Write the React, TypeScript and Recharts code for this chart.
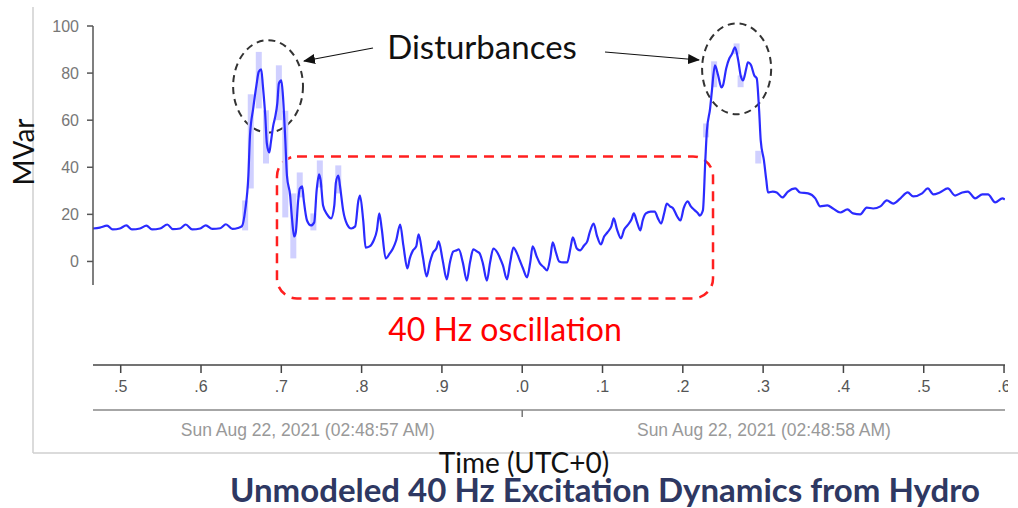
import React from "react";
import { ComposedChart, Line, Bar, XAxis, YAxis, ReferenceArea } from "recharts";

// time in ms after 02:48:57, MVar
const timeMs = [
  465.5, 474, 483, 490, 499, 507, 514, 524, 532, 539, 549, 558, 565, 574, 581, 589, 599, 606, 614, 624, 631, 639, 646,
  651, 655, 659, 661, 665, 669, 672, 675, 677, 680, 682, 685, 687, 690, 692, 695, 697, 700, 702, 705, 707, 711, 713, 716, 718, 721, 723, 726, 728,
  732, 737, 741, 744, 747, 749, 752, 757, 762, 766, 768, 771, 773, 777, 782, 787, 792, 796, 798, 802, 805, 810, 815, 819, 822, 825, 830, 835, 839, 843, 848,
  852, 857, 860, 864, 868, 871, 876, 881, 885, 889, 893, 896, 901, 906, 910, 914, 918, 921, 926, 931, 935, 939, 944, 947, 951, 956, 960, 964, 969, 972,
  976, 981, 985, 989, 994, 997, 1001, 1006, 1010, 1013, 1018, 1022, 1027, 1031, 1035, 1038, 1042, 1046, 1051, 1056, 1060, 1063, 1068, 1072, 1077, 1081, 1084, 1089, 1093,
  1098, 1102, 1106, 1111, 1114, 1118, 1123, 1127, 1131, 1136, 1139, 1143, 1147, 1150, 1154, 1160, 1165, 1169, 1173, 1177, 1180, 1184, 1188, 1193, 1197, 1201, 1206, 1210, 1215, 1219, 1221, 1225,
  1228, 1230, 1234, 1236, 1240, 1244, 1248, 1250, 1254, 1258, 1261, 1265, 1269, 1272, 1275, 1279, 1281, 1285, 1289, 1292, 1295, 1297, 1301, 1304, 1306,
  1312, 1317, 1324, 1331, 1340, 1346, 1356, 1365, 1371, 1380, 1387, 1396, 1405, 1412, 1421, 1429, 1437, 1446, 1454, 1462, 1471, 1480, 1487, 1498, 1505, 1512, 1520, 1530, 1539, 1548, 1555, 1564, 1573, 1580, 1589, 1598, 1601,
];
const mvar = [
  14.0, 14.4, 15.2, 13.6, 14.0, 15.3, 13.6, 14.0, 15.2, 13.6, 14.0, 15.7, 13.7, 14.0, 15.7, 13.6, 14.0, 15.3, 13.8, 14.1, 15.8, 13.8, 14.2,
  15.0, 21.7, 36.5, 53.5, 65.0, 74.8, 80.7, 81.6, 74.8, 62.0, 50.1, 46.3, 50.6, 57.8, 60.8, 67.1, 75.6, 76.9, 70.5, 51.4, 36.5, 28.0, 19.5, 10.6, 12.3, 25.9, 31.0, 31.9, 25.9,
  17.4, 15.3, 16.6, 30.2, 37.0, 34.4, 23.8, 20.0, 18.3, 23.8, 33.6, 36.5, 32.3, 21.7, 15.7, 14.0, 14.9, 25.9, 28.0, 17.4, 5.9, 6.4, 8.9, 13.2, 20.4, 14.0, 1.3, 3.4, 5.5, 8.9, 15.7,
  6.8, -3.0, 1.3, 4.7, 6.4, 11.5, 2.5, -6.4, -0.4, 3.8, 5.5, 8.5, 0.4, -7.6, -0.4, 4.2, 4.7, 5.1, -0.4, -8.1, -0.4, 5.1, 4.2, 3.4, -0.8, -8.1, -0.4, 5.5, 3.8, 1.7,
  -1.7, -7.6, -0.4, 5.9, 3.0, 0.4, -3.0, -6.8, -0.4, 6.4, 2.1, -0.8, -2.5, -3.8, 1.7, 8.1, 3.8, 0.0, -0.4, -0.4, 5.5, 10.2, 5.5, 4.7, 6.8, 8.5, 12.3, 16.1, 11.0,
  7.2, 10.6, 12.3, 14.9, 18.3, 13.6, 9.8, 13.6, 15.3, 17.8, 20.4, 16.6, 13.2, 17.4, 20.4, 21.2, 21.2, 18.3, 16.1, 20.8, 24.6, 23.4, 22.5, 19.1, 17.4, 22.5, 25.5, 23.4, 21.7, 20.4, 19.5, 21.7,
  42.9, 55.7, 65.0, 71.8, 83.3, 79.0, 73.9, 74.8, 82.0, 86.3, 88.0, 90.9, 85.4, 79.0, 76.9, 82.0, 84.6, 83.3, 79.0, 77.8, 64.2, 51.4, 42.9, 34.4, 29.3,
  29.7, 29.3, 27.2, 29.7, 31.0, 29.3, 28.9, 26.8, 23.4, 23.8, 22.5, 20.8, 22.1, 20.4, 20.0, 22.9, 22.5, 23.4, 25.9, 24.6, 26.8, 29.3, 27.6, 28.9, 31.0, 28.5, 29.3, 31.0, 28.0, 29.3, 29.7, 26.8, 28.5, 28.5, 25.1, 26.8, 26.3,
];

// min/max envelope bars shown behind the trace
const envTime = [655, 662, 672, 681, 697, 705, 715, 723, 740, 748, 771, 1229, 1239, 1267, 1272, 1294];
const envLow = [13.2, 31, 65, 41.6, 60, 18.7, 1.3, 27.2, 13.2, 31.4, 28.9, 52.7, 74, 88, 74, 41.6];
const envHigh = [25.9, 71, 89, 64.2, 83.3, 64, 28.9, 37.8, 20.4, 42.9, 40.8, 58.6, 85, 92.6, 79, 47];

const yTicks = [0, 20, 40, 60, 80, 100];
const secTicks = [500, 600, 700, 800, 900, 1000, 1100, 1200, 1300, 1400, 1500, 1600];
const dateTicks = [733, 1000, 1301];
const dateLabels: Record<number, string> = {
  733: "Sun Aug 22, 2021 (02:48:57 AM)",
  1301: "Sun Aug 22, 2021 (02:48:58 AM)",
};

const X_DOMAIN: [number, number] = [465.5, 1601.2];

const rows = [
  ...timeMs.map((t, i) => ({ t, v: mvar[i] })),
  ...envTime.map((t, i) => ({ t, range: [envLow[i], envHigh[i]] })),
].sort((a, b) => a.t - b.t);

const DashedEllipse = (p: any) => (
  <ellipse
    cx={p.x + p.width / 2}
    cy={p.y + p.height / 2}
    rx={Math.abs(p.width) / 2}
    ry={Math.abs(p.height) / 2}
    fill="none"
    stroke="#333"
    strokeWidth={2}
    strokeDasharray="7 5"
  />
);

const RedBox = (p: any) => (
  <rect x={p.x} y={p.y} width={p.width} height={p.height} rx={20} fill="none" stroke="#ff1f1f" strokeWidth={2.5} strokeDasharray="10 7" />
);

// envelope bars: keep a fixed 6px width centred on the sample
const EnvBar = (p: any) =>
  p.height ? <rect x={p.x + p.width / 2 - 3} y={p.y} width={6} height={p.height} fill="#d0d0ff" /> : <g />;

const DateTick = ({ x, y, payload }: any) => {
  if (payload.value === 1000) return <line x1={x} y1={y} x2={x} y2={y + 7} stroke="#777" strokeWidth={1.5} />;
  return (
    <text x={x} y={y + 26} textAnchor="middle" fill="#999" fontSize={17.5}>
      {dateLabels[payload.value]}
    </text>
  );
};

const secLabel = (t: number) => "." + (Math.round(t / 100) % 10);

const slideFont = "Lato, 'Open Sans', sans-serif";

export default function App() {
  return (
    <div style={{ position: "absolute", left: 0, top: 0, width: 1018, height: 508, background: "#fff", overflow: "hidden", fontFamily: "'Liberation Sans', Arial, sans-serif" }}>
      <div style={{ position: "absolute", left: 0, top: 0 }}>
        <ComposedChart width={1008} height={460} data={rows} margin={{ top: 300, right: 3, bottom: 10, left: 93 }}>
          <XAxis
            xAxisId="a1"
            dataKey="t"
            type="number"
            domain={X_DOMAIN}
            allowDataOverflow
            ticks={secTicks}
            interval={0}
            tickFormatter={secLabel}
            height={45}
            axisLine={{ stroke: "#444", strokeWidth: 1.5 }}
            tickLine={{ stroke: "#444", strokeWidth: 1.5 }}
            tickSize={8}
            tickMargin={8}
            tick={{ fill: "#555", fontSize: 16 }}
          />
          <XAxis
            xAxisId="a2"
            dataKey="t"
            type="number"
            domain={X_DOMAIN}
            allowDataOverflow
            ticks={dateTicks}
            interval={0}
            height={40}
            axisLine={{ stroke: "#888", strokeWidth: 1.5 }}
            tickLine={false}
            tickSize={0}
            tickMargin={0}
            tick={<DateTick />}
          />
          <YAxis hide domain={[0, 1]} allowDataOverflow />
          <Line xAxisId="a1" dataKey="v" stroke="none" dot={false} isAnimationActive={false} />
          <Line xAxisId="a2" dataKey="v" stroke="none" dot={false} isAnimationActive={false} />
        </ComposedChart>
      </div>

      <div style={{ position: "absolute", left: 0, top: 0 }}>
        <ComposedChart width={1018} height={310} data={rows} margin={{ top: 26, right: 13, bottom: 25, left: 42 }}>
          <XAxis dataKey="t" type="number" domain={X_DOMAIN} allowDataOverflow hide />
          <YAxis
            domain={[-10, 100]}
            ticks={yTicks}
            allowDataOverflow
            width={51}
            axisLine={{ stroke: "#555", strokeWidth: 1.5 }}
            tickLine={{ stroke: "#555", strokeWidth: 1.5 }}
            tickSize={6}
            tickMargin={8}
            tick={{ fill: "#777", fontSize: 16 }}
          />
          <Bar dataKey="range" fill="#d0d0ff" barSize={6} shape={EnvBar} isAnimationActive={false} />
          <Line dataKey="v" type="monotone" stroke="#2b2bff" strokeWidth={2.2} dot={false} connectNulls isAnimationActive={false} />
          <ReferenceArea x1={640} x2={727} y1={54.8} y2={94} ifOverflow="visible" shape={DashedEllipse} />
          <ReferenceArea x1={1224} x2={1310} y1={62.5} y2={101.1} ifOverflow="visible" shape={DashedEllipse} />
          <ReferenceArea x1={694.6} x2={1237.6} y1={-15.7} y2={44.6} ifOverflow="visible" shape={RedBox} />
        </ComposedChart>
      </div>

      <svg width={1018} height={508} style={{ position: "absolute", left: 0, top: 0, pointerEvents: "none" }}>
        <defs>
          <marker id="ah" markerWidth="12" markerHeight="10" refX="11" refY="5" orient="auto" markerUnits="userSpaceOnUse">
            <path d="M0,0 L12,5 L0,10 Z" fill="#111" />
          </marker>
        </defs>
        <line x1={33} y1={7} x2={33} y2={453} stroke="#cfcfcf" strokeWidth={1.5} />
        <line x1={33} y1={453} x2={1018} y2={453} stroke="#cfcfcf" strokeWidth={1.5} />
        <text x={23} y={152} transform="rotate(-90 23 152)" textAnchor="middle" dominantBaseline="central" fontSize={28} fontFamily={slideFont} fill="#111">
          MVar
        </text>
        <text x={482} y={59} textAnchor="middle" fontSize={33} fontFamily={slideFont} fill="#111">
          Disturbances
        </text>
        <line x1={373} y1={48} x2={304} y2={61} stroke="#111" strokeWidth={1.2} markerEnd="url(#ah)" />
        <line x1={605} y1={52} x2={699} y2={60} stroke="#111" strokeWidth={1.2} markerEnd="url(#ah)" />
        <text x={505} y={341} textAnchor="middle" fontSize={32} fontFamily={slideFont} fill="#ff0000">
          40 Hz oscillation
        </text>
        <text x={524} y={473} textAnchor="middle" fontSize={28} fontFamily={slideFont} fill="#111">
          Time (UTC+0)
        </text>
        <text x={605} y={502} textAnchor="middle" fontSize={33} fontWeight="bold" fontFamily={slideFont} fill="#2e3862">
          Unmodeled 40 Hz Excitation Dynamics from Hydro
        </text>
      </svg>
    </div>
  );
}
